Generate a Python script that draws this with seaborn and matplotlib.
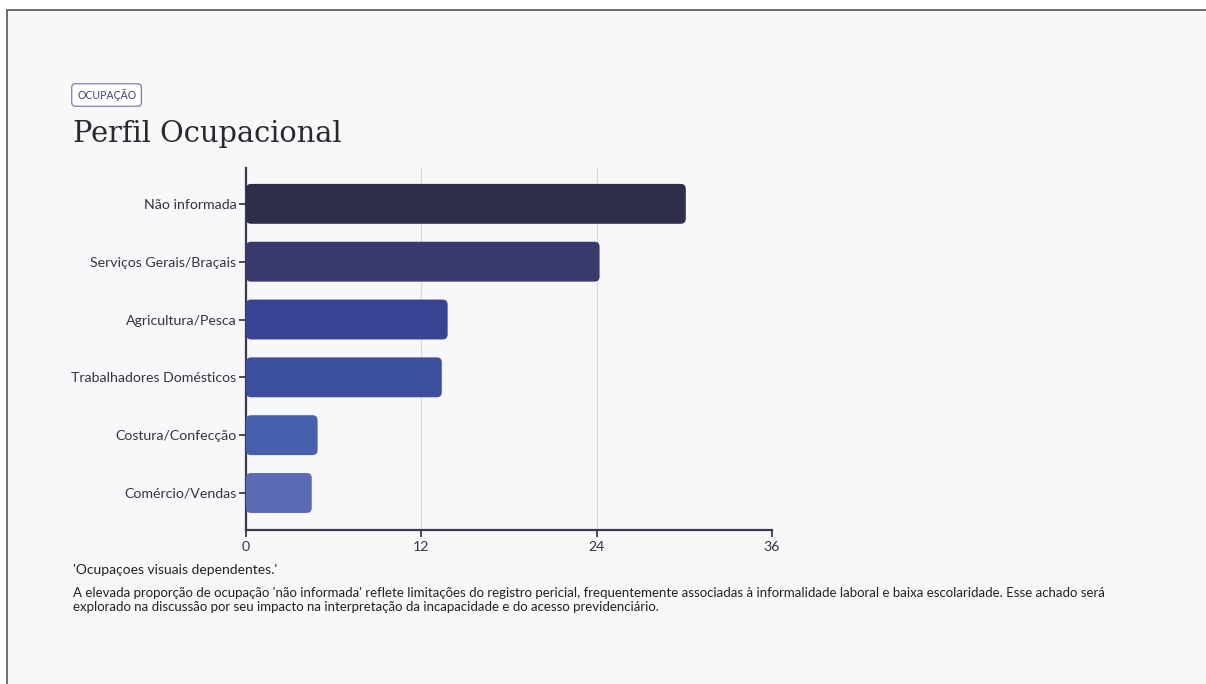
import matplotlib
matplotlib.use("Agg")
import matplotlib.pyplot as plt
import seaborn as sns
import pandas as pd
from matplotlib.patches import FancyBboxPatch, Rectangle

# Data
categories = ["Não informada", "Serviços Gerais/Braçais", "Agricultura/Pesca",
              "Trabalhadores Domésticos", "Costura/Confecção", "Comércio/Vendas"]
values = [30.1, 24.2, 13.8, 13.4, 4.9, 4.5]
bar_colors = ["#2d2f4b", "#3a3a6e", "#3a4294", "#3d50a0", "#4560ac", "#5b6ab5"]
x_ticks = [0, 12, 24, 36]

df = pd.DataFrame({"ocupacao": categories, "n": values})

sns.set_theme(style="white")
plt.rcParams["font.family"] = ["Lato", "DejaVu Sans"]

bg = "#f8f8fa"
fig = plt.figure(figsize=(12.06, 6.84), dpi=100)
fig.patch.set_facecolor("white")

# card panel with a thin border on top/left (right/bottom run off the canvas)
panel = Rectangle((7 / 1206, -0.1), 1.2, 1.1 - 10 / 684, transform=fig.transFigure,
                  facecolor=bg, edgecolor="#555555", linewidth=1.2, zorder=-10)
fig.patches.append(panel)

ax = fig.add_axes([246 / 1206, 1 - 530 / 684, (772 - 246) / 1206, (530 - 168) / 684])
ax.set_facecolor(bg)

sns.barplot(data=df, y="ocupacao", x="n", hue="ocupacao", palette=bar_colors,
            legend=False, width=0.69, ax=ax, saturation=1)

# swap plain bars for rounded ones
for p in list(ax.patches):
    x, y = p.get_x(), p.get_y()
    w, h = p.get_width(), p.get_height()
    fc = p.get_facecolor()
    p.remove()
    ax.add_patch(FancyBboxPatch((x, y), w, h,
                                boxstyle="round,pad=0,rounding_size=0.35",
                                mutation_aspect=0.25, facecolor=fc,
                                edgecolor="none", zorder=3))

ax.set_xlim(0, 36)
ax.set_ylim(5.64, -0.62)
ax.set_xticks(x_ticks)
ax.set_xticklabels([str(t) for t in x_ticks])
ax.set_xlabel("")
ax.set_ylabel("")
ax.grid(axis="x", color="#d9d9de", linewidth=0.9, zorder=0)
ax.set_axisbelow(True)
for s in ["top", "right"]:
    ax.spines[s].set_visible(False)
for s in ["left", "bottom"]:
    ax.spines[s].set_color("#3b3b4f")
    ax.spines[s].set_linewidth(1.6)
ax.tick_params(axis="both", which="both", direction="out", length=5, width=1.3,
               color="#3b3b4f", labelcolor="#34343f", labelsize=10.2, pad=2,
               left=True, bottom=True)
ax.tick_params(axis="x", pad=3)

# badge + title
fig.text(77 / 1206, 1 - 95 / 684, "OCUPAÇÃO", fontsize=7.6, color="#3b3f7a",
         va="center", ha="left",
         bbox=dict(boxstyle="round,pad=0.5,rounding_size=0.35", facecolor="white",
                   edgecolor="#7a7fb0", linewidth=0.9))
fig.text(73 / 1206, 1 - 142 / 684, "Perfil Ocupacional", fontsize=20.8,
         family=["DejaVu Serif"], color="#2a2a2e", va="baseline", ha="left")

# notes
fig.text(73 / 1206, 1 - 570 / 684, "'Ocupaçoes visuais dependentes.'",
         fontsize=10.0, color="#222222", va="center", ha="left")
fig.text(73 / 1206, 1 - 600 / 684,
         "A elevada proporção de ocupação 'não informada' reflete limitações do registro pericial, "
         "frequentemente associadas à informalidade laboral e baixa escolaridade. Esse achado será\n"
         "explorado na discussão por seu impacto na interpretação da incapacidade e do acesso previdenciário.",
         fontsize=9.55, color="#222222", va="center", ha="left", linespacing=1.15)

fig.savefig("out.png", dpi=100, facecolor=fig.get_facecolor())
